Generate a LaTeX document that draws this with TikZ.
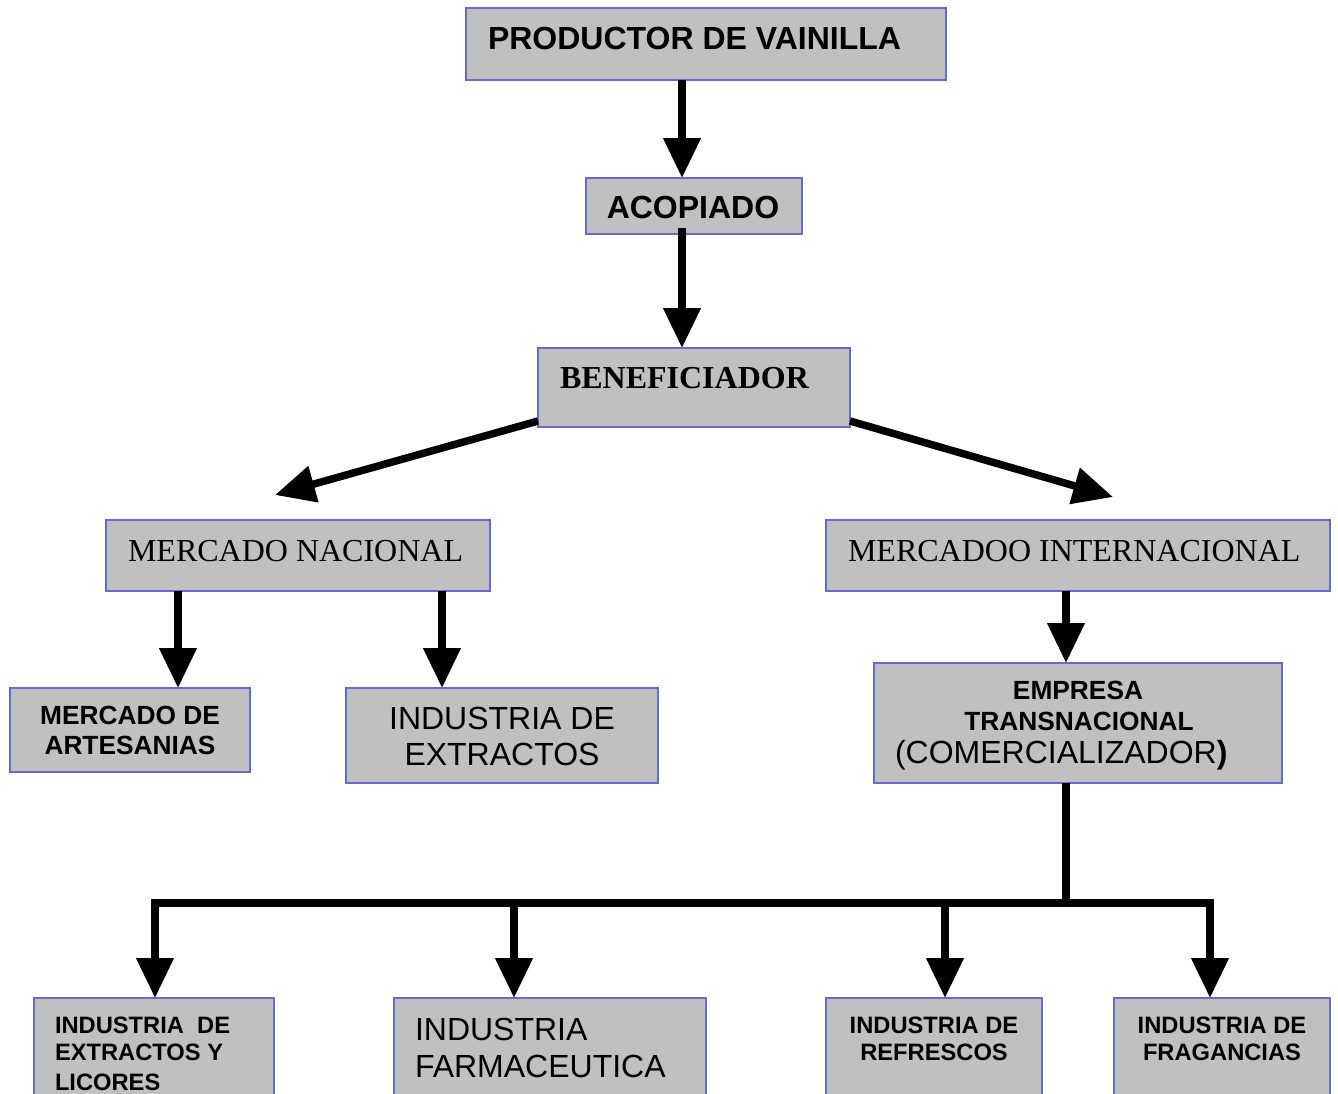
\documentclass[tikz,border=0pt]{standalone}
\usepackage{fontspec}
\setmainfont{Liberation Serif}
\newfontfamily\arialf{Liberation Sans}
\usetikzlibrary{arrows.meta}
\definecolor{boxgray}{RGB}{192,192,192}
\definecolor{boxedge}{RGB}{104,104,208}
\begin{document}
\begin{tikzpicture}[x=1pt,y=-1pt,
  box/.style={draw=boxedge, fill=boxgray, line width=2pt, anchor=north west,
              inner sep=0pt, outer sep=0pt},
  arr/.style={line width=7.5pt, -{Triangle[width=36pt,length=40pt]}},
  bar/.style={line width=7.5pt, line cap=rect},
  txt/.style={inner sep=0pt, outer sep=0pt},
  sansbig/.style={txt, font=\arialf\fontsize{32}{36}\selectfont},
  sansbigb/.style={txt, font=\arialf\bfseries\fontsize{32}{36}\selectfont},
  serifbig/.style={txt, font=\fontsize{32}{36}\selectfont},
  serifbigb/.style={txt, font=\bfseries\fontsize{32}{36}\selectfont},
  sansmidb/.style={txt, font=\arialf\bfseries\fontsize{26.3}{30}\selectfont},
  sanssmb/.style={txt, font=\arialf\bfseries\fontsize{23.7}{27}\selectfont}
]
\useasboundingbox (0,0) rectangle (1338,1093);
\clip (0,0) rectangle (1338,1093);

% boxes
\node[box, minimum width=480pt, minimum height=72pt]  (P)  at (466,8) {};
\node[box, minimum width=216pt, minimum height=56pt]  (A)  at (586,178) {};
\node[box, minimum width=312pt, minimum height=79pt]  (B)  at (538,348) {};
\node[box, minimum width=384pt, minimum height=71pt]  (MN) at (106,520) {};
\node[box, minimum width=504pt, minimum height=71pt]  (MI) at (826,520) {};
\node[box, minimum width=240pt, minimum height=84pt]  (MA) at (10,688) {};
\node[box, minimum width=312pt, minimum height=95pt]  (IE) at (346,688) {};
\node[box, minimum width=408pt, minimum height=120pt] (EM) at (874,663) {};
\node[box, minimum width=240pt, minimum height=130pt] (B1) at (34,998) {};
\node[box, minimum width=312pt, minimum height=130pt] (B2) at (394,998) {};
\node[box, minimum width=216pt, minimum height=130pt] (B3) at (826,998) {};
\node[box, minimum width=216pt, minimum height=130pt] (B4) at (1114,998) {};

% texts
\node[sansbigb, anchor=base west] (tP) at (488,49) {PRODUCTOR DE VAINILLA};
\node[sansbigb, anchor=base] (tA) at (693,218) {ACOPIADO};
\node[serifbigb, anchor=base west] (tB) at (560,388) {BENEFICIADOR};
\node[serifbig, anchor=base west] (tMN) at (128,561) {MERCADO NACIONAL};
\node[serifbig, anchor=base west] (tMI) at (848,561) {MERCADOO INTERNACIONAL};
\node[sansmidb, anchor=base] (tMA1) at (130,724) {MERCADO DE};
\node[sansmidb, anchor=base] (tMA2) at (130,754) {ARTESANIAS};
\node[sansbig, anchor=base] (tIE1) at (502,729) {INDUSTRIA DE};
\node[sansbig, anchor=base] (tIE2) at (502,765) {EXTRACTOS};
\node[sansmidb, anchor=base] (tEM1) at (1078,699) {EMPRESA};
\node[sansmidb, anchor=base] (tEM2) at (1079,730) {TRANSNACIONAL};
\node[sansbig, anchor=base west] (tEM3) at (895,763) {(COMERCIALIZADOR{\bfseries )}};
\node[sanssmb, anchor=base west] (tB11) at (55,1033) {INDUSTRIA\ \ DE};
\node[sanssmb, anchor=base west] (tB12) at (55,1060) {EXTRACTOS Y};
\node[sanssmb, anchor=base west] (tB13) at (55,1090) {LICORES};
\node[sansbig, anchor=base west] (tB21) at (415,1040) {INDUSTRIA};
\node[sansbig, anchor=base west] (tB22) at (415,1077) {FARMACEUTICA};
\node[sanssmb, anchor=base] (tB31) at (934,1033) {INDUSTRIA DE};
\node[sanssmb, anchor=base] (tB32) at (934,1060) {REFRESCOS};
\node[sanssmb, anchor=base] (tB41) at (1222,1033) {INDUSTRIA DE};
\node[sanssmb, anchor=base] (tB42) at (1222,1060) {FRAGANCIAS};

% connectors
\draw[arr] ([xshift=216pt]P.south west) -- ([xshift=96pt]A.north west);
\draw[arr] ([xshift=96pt,yshift=6pt]A.south west) -- ([xshift=144pt]B.north west);
\draw[arr] ([yshift=6pt]B.south west) -- ([xshift=169pt,yshift=25pt]MN.north west);
\draw[arr] ([yshift=6pt]B.south east) -- ([xshift=287pt,yshift=23pt]MI.north west);
\draw[arr] ([xshift=72pt]MN.south west) -- ([xshift=168pt]MA.north west);
\draw[arr] ([xshift=336pt]MN.south west) -- ([xshift=96pt]IE.north west);
\draw[arr] ([xshift=240pt]MI.south west) -- ([xshift=192pt]EM.north west);

\coordinate (bus)  at (1066,903);
\coordinate (busL) at (155,903);
\coordinate (busR) at (1210,903);
\draw[line width=7.5pt] ([xshift=192pt]EM.south west) -- (bus);
\draw[bar] (busL) -- (busR);
\draw[arr] (busL) -- ([xshift=121pt]B1.north west);
\draw[arr] ([xshift=359pt]busL) -- ([xshift=120pt]B2.north west);
\draw[arr] ([xshift=-265pt]busR) -- ([xshift=119pt]B3.north west);
\draw[arr] (busR) -- ([xshift=96pt]B4.north west);
\end{tikzpicture}
\end{document}
